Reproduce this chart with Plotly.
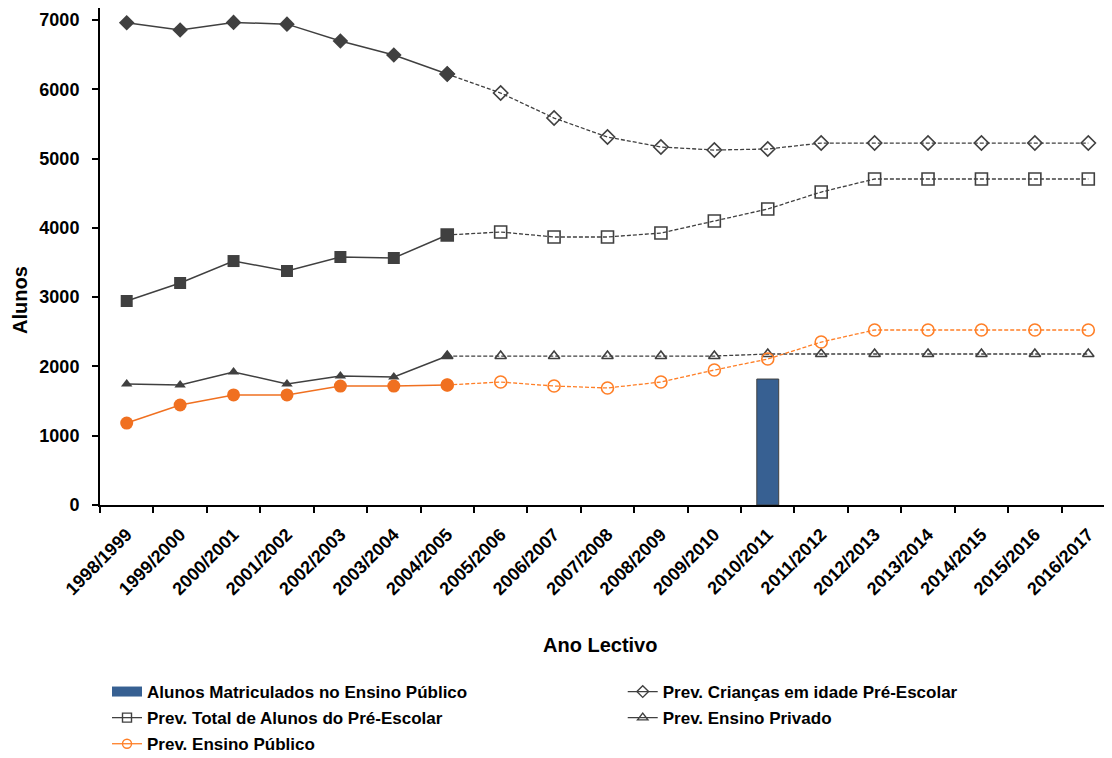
import plotly.graph_objects as go

anos = ["1998/1999", "1999/2000", "2000/2001", "2001/2002", "2002/2003", "2003/2004",
        "2004/2005", "2005/2006", "2006/2007", "2007/2008", "2008/2009", "2009/2010",
        "2010/2011", "2011/2012", "2012/2013", "2013/2014", "2014/2015", "2015/2016",
        "2016/2017"]

criancas = [6960, 6855, 6965, 6940, 6697, 6494, 6220, 5946, 5585, 5311, 5167, 5123,
            5138, 5224, 5224, 5224, 5224, 5224, 5224]
total = [2944, 3204, 3521, 3377, 3579, 3565, 3897, 3940, 3868, 3868, 3925, 4099,
         4272, 4517, 4705, 4705, 4705, 4705, 4705]
privado = [1746, 1732, 1920, 1746, 1862, 1847, 2150, 2150, 2150, 2150, 2150, 2150,
           2179, 2179, 2179, 2179, 2179, 2179, 2179]
publico = [1183, 1443, 1588, 1588, 1717, 1717, 1732, 1775, 1717, 1689, 1775, 1948,
           2107, 2352, 2526, 2526, 2526, 2526, 2526]

bar_ano = ["2010/2011"]
bar_matriculados = [1818]

y_ticks = [0, 1000, 2000, 3000, 4000, 5000, 6000, 7000]

ultimo_real = 6  # index of last observed year (2004/2005)

GREY = "#404040"
ORANGE = "#F07020"
ORANGE_L = "#FF7F27"
BLUE = "#376092"
FONT = "Liberation Sans"

fig = go.Figure()

fig.add_trace(go.Bar(x=bar_ano, y=bar_matriculados, width=0.41,
                     marker=dict(color=BLUE, line=dict(color=GREY, width=1)),
                     name="Alunos Matriculados no Ensino Público",
                     showlegend=False))
# legend entry for the bar (wide rectangle swatch)
fig.add_trace(go.Scatter(x=[anos[0]], y=[None], mode="lines",
                         line=dict(color=BLUE, width=10),
                         name="Alunos Matriculados no Ensino Público",
                         legend="legend", legendgroup="a"))

series = [
    ("Prev. Crianças em idade Pré-Escolar", criancas, GREY, GREY, "diamond", 11, 12, "legend2", "b"),
    ("Prev. Total de Alunos do Pré-Escolar", total, GREY, GREY, "square", 12, 12, "legend", "c"),
    ("Prev. Ensino Privado", privado, GREY, GREY, "triangle-up", 10, 10, "legend2", "d"),
    ("Prev. Ensino Público", publico, ORANGE_L, ORANGE, "circle", 12, 13, "legend", "e"),
]

for name, vals, lc, fc, sym, s_open, s_fill, leg, grp in series:
    # forecast (dashed, open markers)
    fig.add_trace(go.Scatter(
        x=anos[ultimo_real:], y=vals[ultimo_real:], mode="lines+markers",
        line=dict(color=lc, width=1.3, dash="4px,2px"),
        marker=dict(symbol=sym + "-open", size=s_open, color=lc, line=dict(width=1.6, color=lc)),
        showlegend=False, name=name))
    # observed (solid, filled markers)
    fig.add_trace(go.Scatter(
        x=anos[:ultimo_real + 1], y=vals[:ultimo_real + 1], mode="lines+markers",
        line=dict(color=fc, width=1.5),
        marker=dict(symbol=sym, size=s_fill, color=fc, line=dict(width=0)),
        showlegend=False, name=name))
    # legend entry
    fig.add_trace(go.Scatter(
        x=[anos[0]], y=[None], mode="lines+markers", name=name,
        line=dict(color=lc, width=1.3),
        marker=dict(symbol=sym + "-open", size=9, color=lc, line=dict(width=1.4, color=lc)),
        legend=leg, legendgroup=grp))

tickfont = dict(family=FONT, size=18, color="black", weight="bold")
legfont = dict(family=FONT, size=17, color="black", weight="bold")

# the page body adds an 8px offset; margins compensate so the plot area lands in place
fig.update_layout(
    width=1112, height=758,
    margin=dict(l=92, r=5, t=0, b=261, autoexpand=False),
    plot_bgcolor="white", paper_bgcolor="white",
    showlegend=True,
    xaxis=dict(type="category", categoryorder="array", categoryarray=anos,
               range=[-0.5, len(anos) - 0.5], automargin=False, ticklabelstandoff=10,
               showline=True, linecolor="black", linewidth=2, mirror=False,
               ticks="outside", tickson="boundaries", ticklen=6, tickcolor="black", tickwidth=1.5,
               tickangle=-45, tickfont=tickfont, showgrid=False, zeroline=False),
    yaxis=dict(range=[0, 7173], tickvals=y_ticks,
               automargin=False, ticklabelstandoff=9,
               showline=True, linecolor="black", linewidth=2,
               ticks="outside", ticklen=6, tickcolor="black", tickwidth=1.5,
               tickfont=tickfont, showgrid=False, zeroline=False),
    legend=dict(x=0.0069, y=-0.340, xanchor="left", yanchor="top", orientation="v",
                traceorder="grouped", tracegroupgap=1, font=legfont,
                bgcolor="rgba(0,0,0,0)"),
    legend2=dict(x=0.515, y=-0.340, xanchor="left", yanchor="top", orientation="v",
                 traceorder="grouped", tracegroupgap=1, font=legfont,
                 bgcolor="rgba(0,0,0,0)"),
    annotations=[
        dict(text="Ano Lectivo", x=0.4926, y=-0.282, xref="paper", yref="paper",
             xanchor="center", yanchor="middle", showarrow=False,
             font=dict(family=FONT, size=20, color="black", weight="bold")),
        dict(text="Alunos", x=-0.0788, y=0.4125, xref="paper", yref="paper", textangle=-90,
             xanchor="center", yanchor="middle", showarrow=False,
             font=dict(family=FONT, size=20, color="black", weight="bold")),
    ],
)

fig.write_html("out.html")
